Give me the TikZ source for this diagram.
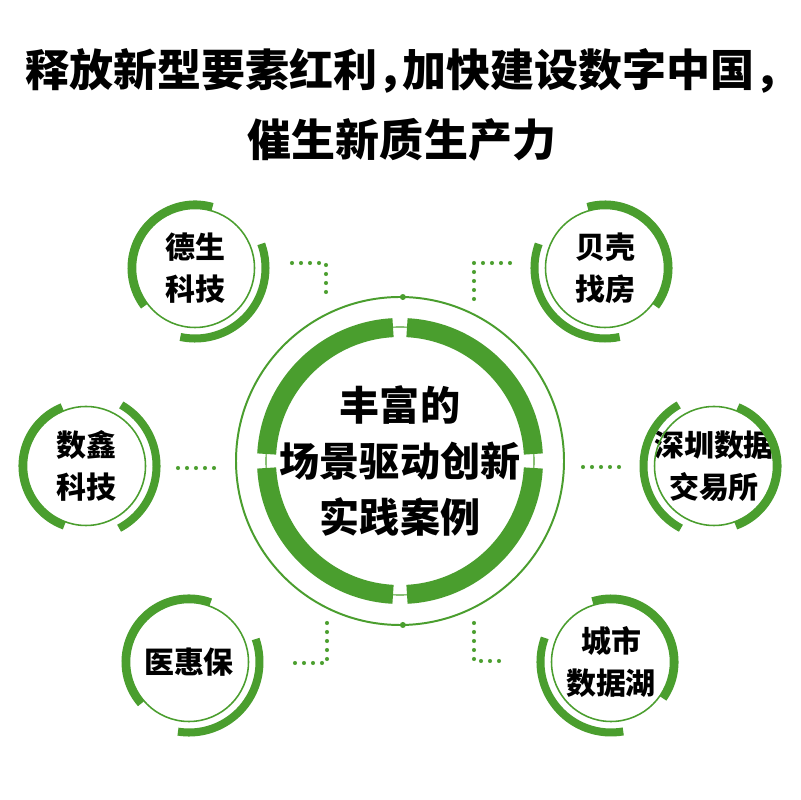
\documentclass[tikz,border=0pt]{standalone}
\usepackage{fontspec}
\usetikzlibrary{positioning,calc}
\IfFontExistsTF{Noto Sans CJK SC Black}{%
    \newfontfamily\cjk{Noto Sans CJK SC Black}}{%
    \IfFontExistsTF{Noto Sans CJK SC Bold}{%
        \newfontfamily\cjk{Noto Sans CJK SC Bold}[FakeBold=1.2]}{%
        \newfontfamily\cjk{Noto Sans CJK SC}[FakeBold=2.5]}}
\definecolor{ringgreen}{RGB}{74,158,46}
\newcommand\halfcomma{\makebox[0.55em][l]{，}}
\tikzset{
    thinring/.style={
        draw=ringgreen,
        line width=1.1pt
    },
    casearc/.style={
        draw=ringgreen,
        line width=5.7pt
    },
    hubarc/.style={
        draw=ringgreen,
        line width=13.5pt
    },
    dotline/.style={
        draw=ringgreen,
        line width=2.9pt,
        line cap=round,
        dash pattern=on 0pt off 6.4pt
    },
    titletext/.style={
        align=center,
        font=\cjk\fontsize{31.3}{49.8}\selectfont
    },
    hubtext/.style={
        align=center,
        font=\cjk\fontsize{28.5}{39.8}\selectfont
    },
    casetext/.style={
        align=center,
        inner sep=0pt,
        font=\cjk\fontsize{21.3}{29.9}\selectfont
    }
}

\begin{document}
\begin{tikzpicture}[x=0.025cm, y=0.025cm]
    \fill[white] (0,0) rectangle (800,800);
    \useasboundingbox (0,0) rectangle (800,800);

    % Title
    \node[titletext] (title) at (402,695) {释放新型要素红利\halfcomma 加快建设数字中国\halfcomma\\催生新质生产力};

    % Central ring
    \node[hubtext] (hub) at (400,339) {丰富的\\场景驱动创新\\实践案例};
    \draw[ringgreen, line width=1.4pt] (hub.center) circle[radius=164];
    \draw[ringgreen, line width=0.8pt] (hub.center) circle[radius=134];
    \foreach \a in {0,90,180,270}
        \draw[hubarc] (hub.center) ++(\a+3:133.5) arc[start angle=\a+3, end angle=\a+87, radius=133.5];
    \fill[ringgreen] (hub.center) ++(89:164) circle[radius=3];
    \fill[ringgreen] (hub.center) ++(271:164) circle[radius=3];

    % Cases
    \node[casetext] (desheng) at (195,532) {德生\\科技};
    \node[casetext] (beike) at (605,532) {贝壳\\找房};
    \node[casetext] (shuxin) at (86,334) {数鑫\\科技};
    \node[casetext] (szdex) at (714,334) {深圳数据\\交易所};
    \node[casetext] (yihuibao) at (189,138) {医惠保};
    \node[casetext] (datalake) at (611,138) {城市\\数据湖};

    % Case rings
    \foreach \n in {desheng,beike,shuxin,szdex,yihuibao,datalake}
        \draw[thinring] (\n.center) circle[radius=59.5];
    \draw[casearc] (desheng.center) ++(74:63.5) arc[start angle=74, end angle=217, radius=63.5];
    \draw[casearc] (desheng.center) ++(-102:70.5) arc[start angle=-102, end angle=20, radius=70.5];
    \draw[casearc] (beike.center) ++(-37:63.5) arc[start angle=-37, end angle=106, radius=63.5];
    \draw[casearc] (beike.center) ++(160:70.5) arc[start angle=160, end angle=282, radius=70.5];
    \draw[casearc] (shuxin.center) ++(112:63.5) arc[start angle=112, end angle=250, radius=63.5];
    \draw[casearc] (shuxin.center) ++(-62:70.5) arc[start angle=-62, end angle=60, radius=70.5];
    \draw[casearc] (szdex.center) ++(-70:63.5) arc[start angle=-70, end angle=68, radius=63.5];
    \draw[casearc] (szdex.center) ++(120:70.5) arc[start angle=120, end angle=242, radius=70.5];
    \draw[casearc] (yihuibao.center) ++(70:63.5) arc[start angle=70, end angle=221, radius=63.5];
    \draw[casearc] (yihuibao.center) ++(-99:70.5) arc[start angle=-99, end angle=19, radius=70.5];
    \draw[casearc] (datalake.center) ++(-35:63.5) arc[start angle=-35, end angle=107, radius=63.5];
    \draw[casearc] (datalake.center) ++(160:70.5) arc[start angle=160, end angle=280, radius=70.5];

    % Dotted links
    \coordinate (desheng-out) at (292,537);
    \coordinate (desheng-in) at (326,500);
    \coordinate (beike-out) at (510,537);
    \coordinate (beike-in) at (474,500);
    \coordinate (shuxin-out) at (178,332);
    \coordinate (shuxin-in) at (217,332);
    \coordinate (szdex-out) at (622,333);
    \coordinate (szdex-in) at (583,333);
    \coordinate (yihuibao-out) at (293,137);
    \coordinate (yihuibao-in) at (327,177);
    \coordinate (datalake-out) at (507,139);
    \coordinate (datalake-in) at (474,177);
    \draw[dotline] (desheng-out) -| (desheng-in);
    \draw[dotline] (beike-out) -| (beike-in);
    \draw[dotline] (shuxin-out) -- (shuxin-in);
    \draw[dotline] (szdex-in) -- (szdex-out);
    \draw[dotline] (yihuibao-in) |- (yihuibao-out);
    \draw[dotline] (datalake-in) |- (datalake-out);
\end{tikzpicture}
\end{document}
